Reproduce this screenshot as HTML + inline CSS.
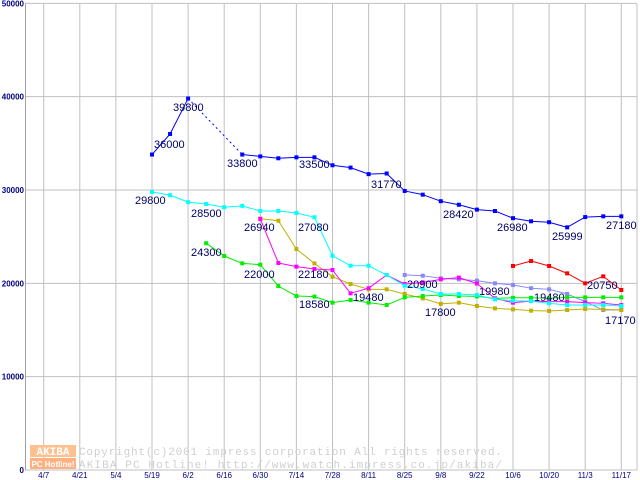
<!DOCTYPE html>
<html><head><meta charset="utf-8">
<style>
html,body{margin:0;padding:0;background:#fff;}
svg{display:block;}
</style></head>
<body>
<svg id="chart" width="640" height="480" viewBox="0 0 640 480" xmlns="http://www.w3.org/2000/svg" font-family="Liberation Sans, sans-serif">
<g id="grid"></g>
<g id="wm">
  <rect x="30" y="445" width="46" height="12" fill="#ffc090"/>
  <text x="53" y="455" font-size="11" fill="#fff" text-anchor="middle" font-weight="bold" font-family="Liberation Mono, monospace">AKIBA</text>
  <rect x="30" y="458" width="46" height="11" fill="#ffb080"/>
  <text x="53" y="467" font-size="8" fill="#fff" text-anchor="middle" font-weight="bold">PC Hotline!</text>
  <text x="79" y="455" font-size="11" fill="#d0d0d0" font-family="Liberation Mono, monospace" textLength="423">Copyright(c)2001 impress corporation All rights reserved.</text>
  <text x="79" y="468" font-size="11" fill="#d0d0d0" font-family="Liberation Mono, monospace" textLength="423">AKIBA PC Hotline!  http://www.watch.impress.co.jp/akiba/</text>
</g>
<g id="series"></g>
<g id="labels"></g>
</svg>
<script>
const xLabels = ["4/7","4/21","5/4","5/19","6/2","6/16","6/30","7/14","7/28","8/11","8/25","9/8","9/22","10/6","10/20","11/3","11/17"];
const yTicks = [0,10000,20000,30000,40000,50000];
const seriesBlue = [null,null,null,null,null,null,33800,36000,39800,null,null,33800,33600,33400,33500,33500,32650,32400,31700,31770,29900,29500,28800,28420,27900,27750,26980,26650,26550,25999,27100,27180,27180];
const seriesCyan = [null,null,null,null,null,null,29800,29450,28700,28500,28150,28300,27750,27750,27540,27080,22960,21890,21890,20890,19750,19400,18860,18860,18750,18290,18140,18100,17860,17680,17680,17680,17570];
const seriesGreen = [null,null,null,null,null,null,null,null,null,24300,22930,22140,22000,19710,18640,18580,17930,18210,17930,17680,18500,18640,18750,18650,18600,18390,18450,18450,18400,18500,18500,18500,18500];
const seriesOlive = [null,null,null,null,null,null,null,null,null,null,null,null,26940,26710,23680,22140,20710,19930,19360,19360,18860,18390,17800,17930,17570,17320,17210,17070,17040,17140,17250,17210,17140];
const seriesMagenta = [null,null,null,null,null,null,null,null,null,null,null,null,26900,22180,21790,21540,21430,18930,19480,20890,19930,20100,20430,20610,19980,18390,17930,18100,18040,18040,17930,17860,17680];
const seriesLavender = [null,null,null,null,null,null,null,null,null,null,null,null,null,null,null,null,null,null,null,null,20900,20820,20540,20430,20290,20000,19820,19480,19360,18860,18040,17140,17170];
const seriesRed = [null,null,null,null,null,null,null,null,null,null,null,null,null,null,null,null,null,null,null,null,null,null,null,null,null,null,21860,22390,21860,21070,20000,20750,19290];
const valueLabels = [["36000",7],["39800",8],["33800",11],["33500",14],["31770",19],["29800",6],["28500",9],["26940",12],["27080",15],["24300",9],["22000",12],["22180",15],["18580",15],["19480",18],["20900",20],["17800",22],["28420",23],["26980",26],["25999",29],["27180",32],["19980",24],["19480",28],["20750",31],["17170",32]];
const labelPos = [[154,148],[173,111],[227,167],[299,168],[371,188],[135,204],[191,217],[244,231],[298,231],[191,256],[244,278],[298,278],[299,308],[353,301],[407,288],[425,316],[443,218],[497,231],[552,240],[606,229],[479,295],[534,301],[587,289],[605,324]];

const NS="http://www.w3.org/2000/svg";
function xs(w){return 43.7+18.05*w;}
function ys(v){return 470-v*0.009333;}
function mk(tag,attrs,parent){const e=document.createElementNS(NS,tag);for(const k in attrs)e.setAttribute(k,attrs[k]);parent.appendChild(e);return e;}

const grid=document.getElementById('grid');
for(let i=0;i<xLabels.length;i++){
  const x=xs(i*2);
  const l=mk('line',{x1:x,y1:4,x2:x,y2:470,stroke:'#c0c0c0','stroke-width':1},grid);
  
  
  const t=mk('text',{x:x,y:478,'font-size':8,fill:'#000080','text-anchor':'middle'},grid);
  t.textContent=xLabels[i];
  
  
}
const rl=mk('line',{x1:637,y1:4,x2:637,y2:470,stroke:'#c0c0c0','stroke-width':1},grid);


for(const v of yTicks){
  const y=ys(v);
  const l=mk('line',{x1:25,y1:y,x2:637,y2:y,stroke:'#c0c0c0','stroke-width':1},grid);
  
  
  const t=mk('text',{x:24,y:y+3,'font-size':8,'font-weight':'bold',fill:'#000080','text-anchor':'end'},grid);
  t.textContent=String(v);
  
  
}
const ax=mk('line',{x1:25.5,y1:4,x2:25.5,y2:470,stroke:'#a0a0a0','stroke-width':1},grid);



const sg=document.getElementById('series');
const all=[[seriesLavender,'#8888ff','lavender'],[seriesOlive,'#c0b000','olive'],[seriesGreen,'#00ee00','green'],[seriesMagenta,'#ff00ff','magenta'],[seriesCyan,'#00ffff','cyan'],[seriesRed,'#ff0000','red'],[seriesBlue,'#0000ff','blue']];
for(const [data,col,name] of all){
  let prev=null;
  for(let i=0;i<data.length;i++){
    if(data[i]==null)continue;
    if(prev!=null){
      const gap=i-prev>1;
      const l=mk('line',{x1:xs(prev),y1:ys(data[prev]),x2:xs(i),y2:ys(data[i]),stroke:col,'stroke-width':1},sg);
      if(gap)l.setAttribute('stroke-dasharray','2,3');
      
      
    }
    prev=i;
  }
  for(let i=0;i<data.length;i++){
    if(data[i]==null)continue;
    const r=mk('rect',{x:xs(i)-2,y:ys(data[i])-2,width:4,height:4,fill:col},sg);
    
    
  }
}
const lg=document.getElementById('labels');
for(let k=0;k<valueLabels.length;k++){
  const t=mk('text',{x:labelPos[k][0],y:labelPos[k][1],'font-size':11,fill:'#000066'},lg);
  t.textContent=valueLabels[k][0];
  
  
}
</script>
</body></html>
